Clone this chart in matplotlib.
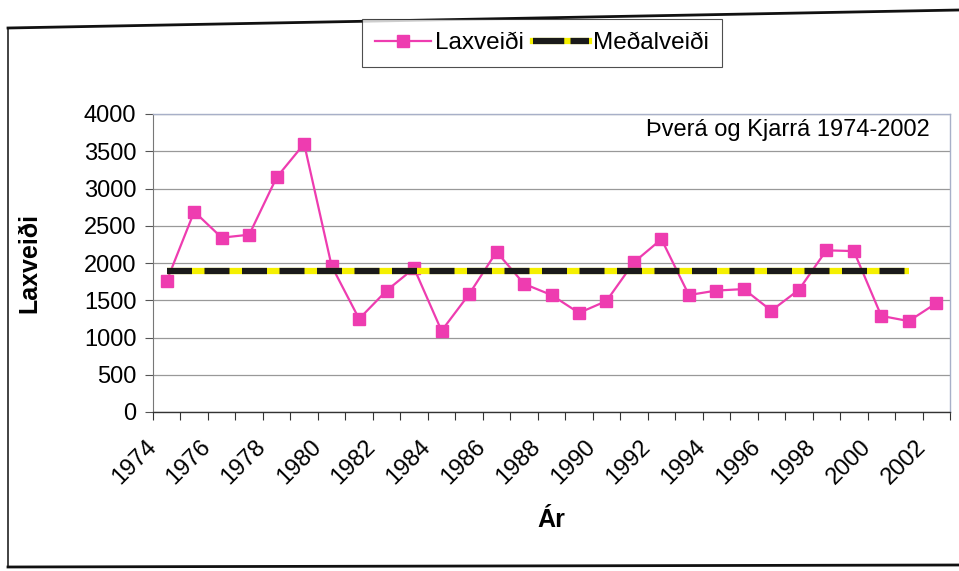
import matplotlib
matplotlib.use('Agg')
import matplotlib.pyplot as plt
import matplotlib.transforms as mtransforms
from matplotlib.lines import Line2D

plt.rcParams['font.family'] = ['Liberation Sans', 'DejaVu Sans']

# --- data ---
years = list(range(1974, 2003))
laxveidi = [1760, 2690, 2340, 2380, 3150, 3600, 1960, 1250, 1630, 1930,
            1090, 1580, 2150, 1720, 1570, 1330, 1490, 2010, 2320, 1570,
            1630, 1650, 1360, 1640, 2170, 2160, 1290, 1220, 1460]
# mean line drawn from 1974 to 2001
mean_years = list(range(1974, 2002))
medalveidi = [1890] * len(mean_years)

year_labels = [str(y) for y in range(1974, 2003, 2)]
y_ticks = [0, 500, 1000, 1500, 2000, 2500, 3000, 3500, 4000]

PINK = '#EE3CB0'

fig = plt.figure(figsize=(9.59, 5.71), dpi=100)
ax = fig.add_axes([153 / 959, 1 - 412 / 571, 797 / 959, 298 / 571])

x = [y - 1974 for y in years]
xm = [y - 1974 for y in mean_years]

# laxveidi series
ax.plot(x, laxveidi, color=PINK, linewidth=1.6, marker='s', markersize=9,
        markerfacecolor=PINK, markeredgecolor=PINK, zorder=3)

# mean line: yellow under black dashes
ax.plot(xm, medalveidi, color='#F5F000', linewidth=4.5, solid_capstyle='butt', zorder=4)
ax.plot(xm, medalveidi, color='#1a1a1a', linewidth=4.5, dashes=(4, 2),
        dash_capstyle='butt', zorder=5)

ax.set_xlim(-0.5, len(years) - 0.5)
ax.set_ylim(0, 4000)

# y axis
ax.set_yticks(y_ticks)
ax.set_yticklabels([str(v) for v in y_ticks])
ax.tick_params(axis='y', labelsize=17, length=6, width=0.8, pad=6, color='#555555')
ax.yaxis.grid(True, color='#999999', linewidth=0.9)
ax.set_axisbelow(True)

# x axis: tick marks at category boundaries, labels every 2 years
ax.set_xticks([i - 0.5 for i in range(len(years) + 1)])
ax.set_xticklabels([])
ax.tick_params(axis='x', which='major', length=6, width=0.8, color='#333333')
label_pos = [i for i in range(0, len(years), 2)]
ax.set_xticks(label_pos, minor=True)
ax.set_xticklabels(year_labels, minor=True, rotation=45, ha='right',
                   va='center', rotation_mode='anchor', fontsize=17)
ax.tick_params(axis='x', which='minor', length=0, pad=23)
offset = mtransforms.ScaledTranslation(-0.14, 0, fig.dpi_scale_trans)
for lab in ax.xaxis.get_minorticklabels():
    lab.set_transform(lab.get_transform() + offset)

for side in ['top', 'right']:
    ax.spines[side].set_color('#a8b0c8')
    ax.spines[side].set_linewidth(1.0)
ax.spines['left'].set_color('#777777')
ax.spines['bottom'].set_color('#333333')
ax.spines['bottom'].set_linewidth(1.0)

ax.set_ylabel('Laxveiði', fontsize=18, fontweight='bold')
ax.yaxis.set_label_coords(-112 / 797, 0.5)
ax.set_xlabel('Ár', fontsize=18, fontweight='bold')
ax.xaxis.set_label_coords(0.5, -96 / 298)

ax.text(0.975, 0.945, 'Þverá og Kjarrá 1974-2002', transform=ax.transAxes,
        ha='right', va='center', fontsize=17)

# legend
h1 = Line2D([], [], color=PINK, linewidth=1.6, marker='s', markersize=9,
            markerfacecolor=PINK, markeredgecolor=PINK)
h2y = Line2D([], [], color='#F5F000', linewidth=4.5)
h2b = Line2D([], [], color='#1a1a1a', linewidth=4.5, dashes=(5, 1))
leg = fig.legend([h1, (h2y, h2b)], ['Laxveiði', 'Meðalveiði'], loc='center',
                 bbox_to_anchor=(542 / 959, 1 - 43 / 571), ncol=2, fontsize=17.5,
                 frameon=True, fancybox=False, handlelength=2.3,
                 handletextpad=0.15, columnspacing=0.4, borderpad=0.55)
leg.get_frame().set_edgecolor('#222222')
leg.get_frame().set_linewidth(0.8)

# outer chart frame from the scan
fig.add_artist(Line2D([8 / 959, 8 / 959], [1 - 566 / 571, 1 - 28 / 571],
                      color='#222222', linewidth=1.2, transform=fig.transFigure))
fig.add_artist(Line2D([8 / 959, 1.0], [1 - 28 / 571, 1 - 10 / 571],
                      color='#111111', linewidth=2.0, transform=fig.transFigure))
fig.add_artist(Line2D([8 / 959, 1.0], [1 - 567 / 571, 1 - 565 / 571],
                      color='#111111', linewidth=2.0, transform=fig.transFigure))

fig.savefig('out.png', dpi=100)
